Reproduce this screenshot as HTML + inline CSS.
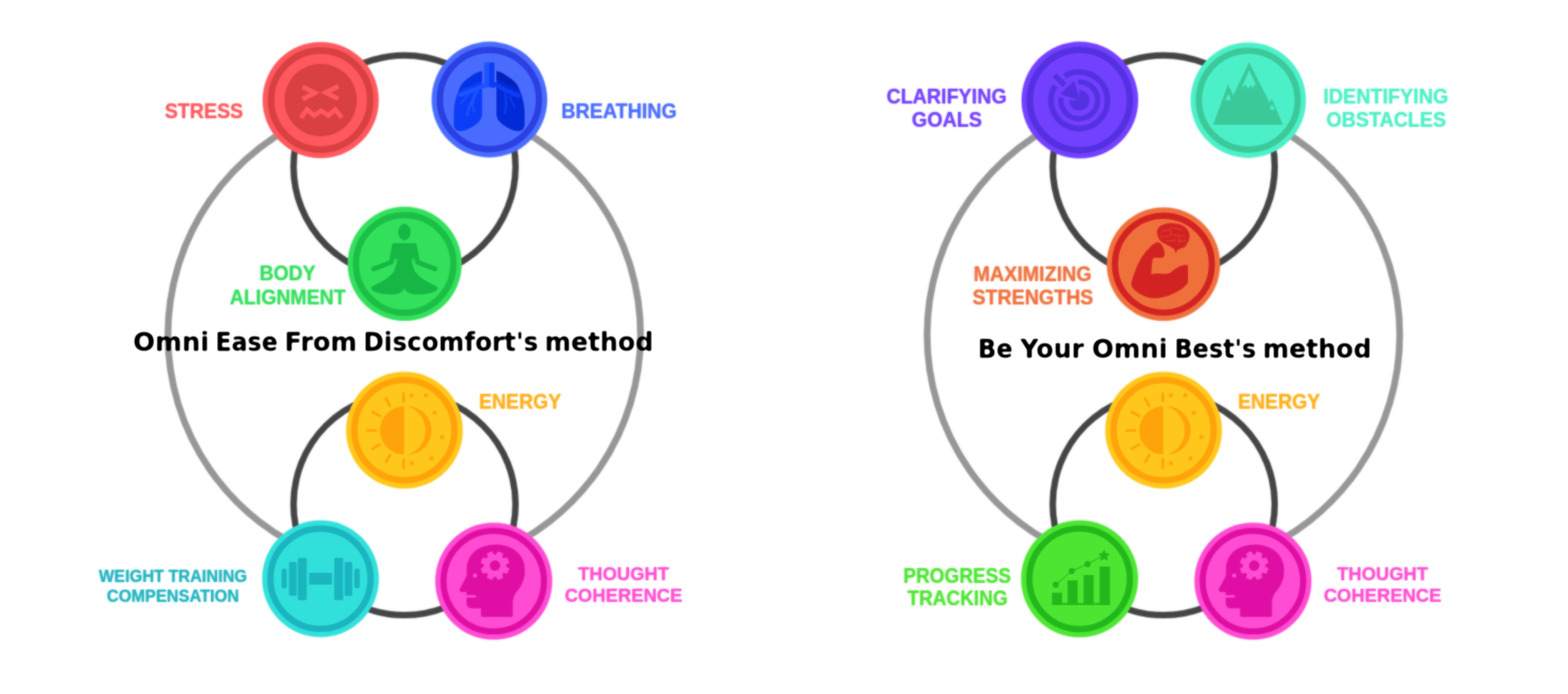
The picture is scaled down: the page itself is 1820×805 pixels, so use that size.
<!DOCTYPE html>
<html lang="en">
<head>
<meta charset="utf-8">
<title>Omni methods</title>
<style>
html,body{margin:0;padding:0;background:#fff;}
body{width:1820px;height:805px;overflow:hidden;position:relative;}
svg{position:absolute;left:0;top:0;display:block;}
text{font-family:"Liberation Sans", sans-serif;font-weight:bold;}
text.h{font-family:"DejaVu Sans","Liberation Sans",sans-serif;}
</style>
</head>
<body>
<svg width="1820" height="805" viewBox="0 0 1820 805">
<defs>
<filter id="soft" x="-5%" y="-5%" width="110%" height="110%"><feGaussianBlur stdDeviation="0.8"/></filter>
<filter id="soft2" x="-5%" y="-20%" width="110%" height="140%"><feGaussianBlur stdDeviation="0.8"/><feComponentTransfer><feFuncA type="linear" slope="1.5" intercept="-0.25"/></feComponentTransfer></filter>
<filter id="soft3" x="-5%" y="-5%" width="110%" height="110%"><feGaussianBlur stdDeviation="0.8"/></filter>
</defs>
<g filter="url(#soft)">
<g id="art">
<g transform="translate(0,0)">
<path d="M372.0 132.0 A274.3 274.3 0 0 0 372.0 645.0" fill="none" stroke="#969696" stroke-width="7.3"/>
<path d="M569.0 133.0 A274.3 274.3 0 0 1 569.0 644.0" fill="none" stroke="#969696" stroke-width="7.3"/>
<circle cx="469.55" cy="193.15" r="128.85" fill="none" stroke="#454545" stroke-width="7.0"/>
<circle cx="469.55" cy="584.75" r="128.85" fill="none" stroke="#454545" stroke-width="7.0"/>
<g transform="translate(372.2,116.1)">
<circle r="67.2" fill="#ff585e"/>
<circle r="57.5" fill="none" stroke="#d94042" stroke-width="7.6"/>
<circle r="42.1" fill="#d94042"/>
</g>
<g fill="none" stroke="#ff585e" stroke-width="5.4" stroke-linejoin="miter">
<path d="M351.2 100.6 L365.6 107.8 L351.2 115.0"/>
<path d="M392.8 100.0 L378.0 107.4 L392.8 114.6"/>
<path d="M349.2 136.6 L356.4 127.0 L364.6 134.0 L372.8 128.4 L381.0 134.0 L389.2 127.0 L396.8 136.6"/>
</g>
<g transform="translate(568.1,115.5)">
<circle r="66.9" fill="#4a6cff"/>
<circle r="57.5" fill="none" stroke="#2a40e2" stroke-width="7.4"/>
</g>
<g transform="translate(518.0 65.0) scale(0.124224)">
<path d="M335 140 C300 140 250 170 200 210 C160 240 135 270 115 320 C90 380 72 450 70 520 L70 640 C72 680 95 702 135 702 C180 700 230 675 270 645 C310 615 335 585 335 540 Z" fill="#0a3ef6"/>
<path d="M468 140 C503 140 553 170 603 210 C643 240 668 270 688 320 C713 380 731 450 733 520 L733 640 C731 680 708 702 668 702 C623 700 573 675 533 645 C493 615 468 585 468 540 Z" fill="#052bd6"/>
<path d="M335 140 C300 140 250 170 200 210 C160 240 135 270 118 315 L335 235 Z" fill="#0633dc" opacity=".75"/>
<path d="M468 140 C503 140 553 170 603 210 C643 240 668 270 686 315 L468 215 Z" fill="#0320b4" opacity=".75"/>
<g fill="none" stroke-linecap="round" stroke-linejoin="round">
<g stroke="#1f55ff">
<path d="M378 262 L300 300 L130 362" stroke-width="40"/>
<path d="M295 322 L215 470 L196 548" stroke-width="24" opacity=".85"/>
<path d="M262 340 L245 470 L262 520" stroke-width="18" opacity=".8"/>
<path d="M215 350 L135 440" stroke-width="18" opacity=".8"/>
</g>
<g stroke="#0a3ef4">
<path d="M425 250 L520 300 L670 370" stroke-width="42"/>
<path d="M552 350 L560 450 L546 535" stroke-width="24" opacity=".85"/>
<path d="M590 375 L640 480" stroke-width="18" opacity=".8"/>
</g>
</g>
<path d="M353 60 H402 V290 L353 300 Z" fill="#1f55ff"/>
<path d="M401 60 H450 V300 L401 290 Z" fill="#0a3ef4"/>
<path d="M401 295 L345 345 L345 560 L460 560 L460 345 Z" fill="#4a6cff"/>
</g>
<g transform="translate(469.7,306.1)">
<circle r="66.0" fill="#33e05c"/>
<circle r="56.6" fill="none" stroke="#1cbf47" stroke-width="7.4"/>
</g>
<g transform="translate(397.0 234.0) scale(0.178792)">
<g fill="#17b745">
<ellipse cx="405" cy="197" rx="40" ry="54"/>
<path d="M342 268 H468 Q478 268 479 278 L462 400 Q460 430 475 455 C510 500 570 530 612 548 Q630 562 612 577 C570 600 500 606 450 598 Q420 590 405 562 Q390 590 360 598 C310 606 240 600 198 577 Q180 562 198 548 C240 530 300 500 335 455 Q350 430 348 400 L331 278 Q332 268 342 268 Z"/>
</g>
<g fill="none" stroke="#17b745" stroke-width="31" stroke-linecap="round" stroke-linejoin="round">
<path d="M470 284 L490 392 L604 436"/>
<path d="M340 284 L320 392 L206 436"/>
</g>
<g fill="none" stroke="#33e05c" stroke-width="8" stroke-linecap="round">
<path d="M352 372 Q358 402 338 424"/>
<path d="M458 372 Q452 402 472 424"/>
</g>
</g>
<g transform="translate(469.4,499.0)">
<circle r="67.5" fill="#ffc71a"/>
<circle r="58.1" fill="none" stroke="#ffa30a" stroke-width="7.4"/>
</g>
<g transform="translate(420.0 449.0) scale(0.124224)">
<path d="M395 180 A225 225 0 0 0 395 630 Z" fill="#ffa30a"/>
<path d="M425 179 A226 226 0 1 1 425 631 A235.2 235.2 0 0 0 425 179 Z" fill="#ffa30a"/>
<g stroke="#ffa30a" stroke-width="24" stroke-linecap="round">
<path d="M390 60 L390 130"/><path d="M225 105 L262 175"/><path d="M100 232 L170 270"/><path d="M52 405 L130 405"/><path d="M100 575 L170 535"/><path d="M225 700 L265 635"/><path d="M390 675 L390 755"/>
</g>
<path d="M465.0 56.0 L471.5 69.1 L485.9 71.2 L475.5 81.4 L477.9 95.8 L465.0 89.0 L452.1 95.8 L454.5 81.4 L444.1 71.2 L458.5 69.1 Z" fill="#ffa30a" stroke="#ffa30a" stroke-width="8" stroke-linejoin="round"/>
<path d="M600.0 56.0 L606.5 69.1 L620.9 71.2 L610.5 81.4 L612.9 95.8 L600.0 89.0 L587.1 95.8 L589.5 81.4 L579.1 71.2 L593.5 69.1 Z" fill="#ffa30a" stroke="#ffa30a" stroke-width="8" stroke-linejoin="round"/>
<path d="M680.0 218.0 L686.5 231.1 L700.9 233.2 L690.5 243.4 L692.9 257.8 L680.0 251.0 L667.1 257.8 L669.5 243.4 L659.1 233.2 L673.5 231.1 Z" fill="#ffa30a" stroke="#ffa30a" stroke-width="8" stroke-linejoin="round"/>
<path d="M750.0 446.0 L756.5 459.1 L770.9 461.2 L760.5 471.4 L762.9 485.8 L750.0 479.0 L737.1 485.8 L739.5 471.4 L729.1 461.2 L743.5 459.1 Z" fill="#ffa30a" stroke="#ffa30a" stroke-width="8" stroke-linejoin="round"/>
<path d="M650.0 643.0 L656.5 656.1 L670.9 658.2 L660.5 668.4 L662.9 682.8 L650.0 676.0 L637.1 682.8 L639.5 668.4 L629.1 658.2 L643.5 656.1 Z" fill="#ffa30a" stroke="#ffa30a" stroke-width="8" stroke-linejoin="round"/>
<path d="M465.0 688.0 L471.5 701.1 L485.9 703.2 L475.5 713.4 L477.9 727.8 L465.0 721.0 L452.1 727.8 L454.5 713.4 L444.1 703.2 L458.5 701.1 Z" fill="#ffa30a" stroke="#ffa30a" stroke-width="8" stroke-linejoin="round"/>
</g>
<g transform="translate(372.0,671.3)">
<circle r="67.5" fill="#33e0db"/>
<circle r="58.1" fill="none" stroke="#1ab5c0" stroke-width="7.4"/>
</g>
<g transform="translate(322.0 621.0) scale(0.124224)">
<g fill="#1ab5c0">
<rect x="295" y="350" width="215" height="110"/>
<rect x="190" y="210" width="85" height="395" rx="14"/>
<rect x="108" y="248" width="72" height="317" rx="14"/>
<rect x="38" y="310" width="50" height="185" rx="22"/>
<rect x="530" y="210" width="85" height="395" rx="14"/>
<rect x="628" y="248" width="72" height="317" rx="14"/>
<rect x="718" y="310" width="52" height="185" rx="22"/>
</g>
</g>
<g transform="translate(573.1,674.1)">
<circle r="67.7" fill="#ff4dd2"/>
<circle r="58.3" fill="none" stroke="#e010a5" stroke-width="7.4"/>
</g>
<g transform="translate(523.0 624.0) scale(0.124224)">
<path d="M150 290 C150 200 200 120 290 85 C340 65 390 58 430 60 C520 62 600 95 650 160 C690 215 702 280 692 350 C684 410 655 460 622 500 C598 530 585 560 582 600 L582 720 C582 732 575 738 565 738 L300 738 C290 738 283 732 283 720 L283 658 L200 658 C168 658 148 640 148 610 L148 555 L235 555 L235 535 L148 535 L148 505 L100 505 C85 505 78 490 85 475 L150 352 Z" fill="#e010a5"/>
<path d="M539.5 287.9 L524.1 324.9 L494.3 315.6 L472.6 337.3 L481.9 367.1 L444.9 382.5 L430.3 354.8 L399.7 354.8 L385.1 382.5 L348.1 367.1 L357.4 337.3 L335.7 315.6 L305.9 324.9 L290.5 287.9 L318.2 273.3 L318.2 242.7 L290.5 228.1 L305.9 191.1 L335.7 200.4 L357.4 178.7 L348.1 148.9 L385.1 133.5 L399.7 161.2 L430.3 161.2 L444.9 133.5 L481.9 148.9 L472.6 178.7 L494.3 200.4 L524.1 191.1 L539.5 228.1 L511.8 242.7 L511.8 273.3 Z" fill="#ff4dd2" stroke="#ff4dd2" stroke-width="14" stroke-linejoin="round"/><circle cx="415" cy="258" r="50" fill="#e010a5"/>
<circle cx="228" cy="352" r="19" fill="#ff4dd2"/>
</g>
</g>

<g transform="translate(881.2,0)">
<path d="M372.0 132.0 A274.3 274.3 0 0 0 372.0 645.0" fill="none" stroke="#969696" stroke-width="7.3"/>
<path d="M569.0 133.0 A274.3 274.3 0 0 1 569.0 644.0" fill="none" stroke="#969696" stroke-width="7.3"/>
<circle cx="469.55" cy="193.15" r="128.85" fill="none" stroke="#454545" stroke-width="7.0"/>
<circle cx="469.55" cy="584.75" r="128.85" fill="none" stroke="#454545" stroke-width="7.0"/>
<g transform="translate(372.2,116.1)">
<circle r="67.5" fill="#7340ff"/>
<circle r="58.1" fill="none" stroke="#5530e0" stroke-width="7.4"/>
</g>
<g transform="translate(321.8 66.0) scale(0.124224)">
<path d="M264.0 178.7 A264 264 0 1 1 173.7 269.0" fill="none" stroke="#5530e0" stroke-width="54"/>
<path d="M388.0 233.4 A172 172 0 1 1 230.1 378.1" fill="none" stroke="#5530e0" stroke-width="49"/>
<path d="M400 310 A95 95 0 1 1 305 405 L400 405 Z" fill="#5530e0"/>
<path d="M168 170 L264 264" stroke="#5530e0" stroke-width="50" fill="none"/>
<path d="M350 232 L400 400 L232 345 Z" fill="#5530e0" stroke="#5530e0" stroke-width="10" stroke-linejoin="round"/>
</g>
<g transform="translate(567.7,116.2)">
<circle r="66.7" fill="#4df0c8"/>
<circle r="57.3" fill="none" stroke="#3cc99a" stroke-width="7.4"/>
</g>
<g transform="translate(517.8 66.0) scale(0.124224)">
<path d="M78 630 L213 262 L262 365 L410 55 L600 430 L622 398 L722 630 Z" fill="#3cc99a" stroke="#3cc99a" stroke-width="6" stroke-linejoin="round"/>
<path d="M410 125 L480 275 L462 252 L445 295 L425 262 L400 300 L378 258 L338 292 Z" fill="#4df0c8"/>
<path d="M215 345 L240 402 L190 402 Z" fill="#4df0c8"/>
<path d="M622 440 L650 492 L600 492 Z" fill="#4df0c8"/>
</g>
<g transform="translate(469.2,306.4)">
<circle r="65.6" fill="#f0703c"/>
<circle r="56.2" fill="none" stroke="#d32222" stroke-width="7.4"/>
</g>
<g transform="translate(419.8 256.0) scale(0.124224)">
<g fill="#d32222">
<path d="M95 590 C105 540 120 500 140 450 C170 375 210 310 258 262 C280 238 305 212 335 202 C355 197 375 210 388 232 C400 255 410 285 410 312 C410 332 398 345 378 348 L318 346 C304 348 298 356 296 370 C290 410 286 455 284 500
 C320 488 360 490 400 496 C430 498 455 492 475 475 C505 448 540 428 585 415 C605 410 625 410 628 420 L628 575 C612 605 585 630 550 650 C490 688 420 715 340 724 C280 730 220 712 170 680 C130 655 100 625 95 590 Z"/>
<path d="M338 118 C330 78 362 42 412 32 C440 20 485 18 520 26 C572 34 620 62 636 108 C648 145 642 188 618 212 C614 238 592 256 562 260 C548 264 534 270 526 278 L514 305 L496 264 C468 244 428 228 394 208 C364 188 342 156 338 118 Z"/>
</g>
<g fill="none" stroke="#f0703c" stroke-width="7" stroke-linecap="round" opacity=".55">
<path d="M375 110 C400 85 430 100 455 75"/>
<path d="M470 60 C500 80 540 60 575 95"/>
<path d="M365 150 C400 135 430 160 460 135"/>
<path d="M480 130 C510 150 550 120 600 150"/>
<path d="M420 190 C450 175 480 200 515 180"/>
<path d="M535 195 C560 185 585 200 610 185"/>
<path d="M460 80 L470 130"/><path d="M545 150 L550 200"/>
</g>
</g>
<g transform="translate(469.4,499.0)">
<circle r="67.5" fill="#ffc71a"/>
<circle r="58.1" fill="none" stroke="#ffa30a" stroke-width="7.4"/>
</g>
<g transform="translate(420.0 449.0) scale(0.124224)">
<path d="M395 180 A225 225 0 0 0 395 630 Z" fill="#ffa30a"/>
<path d="M425 179 A226 226 0 1 1 425 631 A235.2 235.2 0 0 0 425 179 Z" fill="#ffa30a"/>
<g stroke="#ffa30a" stroke-width="24" stroke-linecap="round">
<path d="M390 60 L390 130"/><path d="M225 105 L262 175"/><path d="M100 232 L170 270"/><path d="M52 405 L130 405"/><path d="M100 575 L170 535"/><path d="M225 700 L265 635"/><path d="M390 675 L390 755"/>
</g>
<path d="M465.0 56.0 L471.5 69.1 L485.9 71.2 L475.5 81.4 L477.9 95.8 L465.0 89.0 L452.1 95.8 L454.5 81.4 L444.1 71.2 L458.5 69.1 Z" fill="#ffa30a" stroke="#ffa30a" stroke-width="8" stroke-linejoin="round"/>
<path d="M600.0 56.0 L606.5 69.1 L620.9 71.2 L610.5 81.4 L612.9 95.8 L600.0 89.0 L587.1 95.8 L589.5 81.4 L579.1 71.2 L593.5 69.1 Z" fill="#ffa30a" stroke="#ffa30a" stroke-width="8" stroke-linejoin="round"/>
<path d="M680.0 218.0 L686.5 231.1 L700.9 233.2 L690.5 243.4 L692.9 257.8 L680.0 251.0 L667.1 257.8 L669.5 243.4 L659.1 233.2 L673.5 231.1 Z" fill="#ffa30a" stroke="#ffa30a" stroke-width="8" stroke-linejoin="round"/>
<path d="M750.0 446.0 L756.5 459.1 L770.9 461.2 L760.5 471.4 L762.9 485.8 L750.0 479.0 L737.1 485.8 L739.5 471.4 L729.1 461.2 L743.5 459.1 Z" fill="#ffa30a" stroke="#ffa30a" stroke-width="8" stroke-linejoin="round"/>
<path d="M650.0 643.0 L656.5 656.1 L670.9 658.2 L660.5 668.4 L662.9 682.8 L650.0 676.0 L637.1 682.8 L639.5 668.4 L629.1 658.2 L643.5 656.1 Z" fill="#ffa30a" stroke="#ffa30a" stroke-width="8" stroke-linejoin="round"/>
<path d="M465.0 688.0 L471.5 701.1 L485.9 703.2 L475.5 713.4 L477.9 727.8 L465.0 721.0 L452.1 727.8 L454.5 713.4 L444.1 703.2 L458.5 701.1 Z" fill="#ffa30a" stroke="#ffa30a" stroke-width="8" stroke-linejoin="round"/>
</g>
<g transform="translate(371.9,671.4)">
<circle r="67.7" fill="#4de633"/>
<circle r="58.3" fill="none" stroke="#22b81c" stroke-width="7.4"/>
</g>
<g transform="translate(321.8 621.0) scale(0.124224)">
<g fill="#22b81c">
<rect x="145" y="535" width="95" height="115"/>
<rect x="290" y="420" width="95" height="230"/>
<rect x="440" y="370" width="95" height="280"/>
<rect x="590" y="290" width="98" height="360"/>
<rect x="145" y="632" width="543" height="18"/>
<circle cx="180" cy="460" r="29"/><circle cx="330" cy="333" r="29"/><circle cx="478" cy="268" r="29"/>
</g>
<path d="M180 460 L330 333 L478 268 L610 198" stroke="#22b81c" stroke-width="9" fill="none"/>
<path d="M632.0 138.0 L647.9 168.2 L681.5 173.9 L657.7 198.3 L662.6 232.1 L632.0 217.0 L601.4 232.1 L606.3 198.3 L582.5 173.9 L616.1 168.2 Z" fill="#22b81c" stroke="#22b81c" stroke-width="8" stroke-linejoin="round"/>
</g>
<g transform="translate(573.1,674.1)">
<circle r="67.7" fill="#ff4dd2"/>
<circle r="58.3" fill="none" stroke="#e010a5" stroke-width="7.4"/>
</g>
<g transform="translate(523.0 624.0) scale(0.124224)">
<path d="M150 290 C150 200 200 120 290 85 C340 65 390 58 430 60 C520 62 600 95 650 160 C690 215 702 280 692 350 C684 410 655 460 622 500 C598 530 585 560 582 600 L582 720 C582 732 575 738 565 738 L300 738 C290 738 283 732 283 720 L283 658 L200 658 C168 658 148 640 148 610 L148 555 L235 555 L235 535 L148 535 L148 505 L100 505 C85 505 78 490 85 475 L150 352 Z" fill="#e010a5"/>
<path d="M539.5 287.9 L524.1 324.9 L494.3 315.6 L472.6 337.3 L481.9 367.1 L444.9 382.5 L430.3 354.8 L399.7 354.8 L385.1 382.5 L348.1 367.1 L357.4 337.3 L335.7 315.6 L305.9 324.9 L290.5 287.9 L318.2 273.3 L318.2 242.7 L290.5 228.1 L305.9 191.1 L335.7 200.4 L357.4 178.7 L348.1 148.9 L385.1 133.5 L399.7 161.2 L430.3 161.2 L444.9 133.5 L481.9 148.9 L472.6 178.7 L494.3 200.4 L524.1 191.1 L539.5 228.1 L511.8 242.7 L511.8 273.3 Z" fill="#ff4dd2" stroke="#ff4dd2" stroke-width="14" stroke-linejoin="round"/><circle cx="415" cy="258" r="50" fill="#e010a5"/>
<circle cx="228" cy="352" r="19" fill="#ff4dd2"/>
</g>
</g>

</g>
</g>
<use href="#art" opacity="0.5"/>
<g filter="url(#soft3)">
<g id="labels">
<text x="191.19" y="136.6" font-size="24.0" fill="#ff585e" stroke="#ff585e" stroke-width="0.0" stroke-linejoin="round" textLength="91.08" lengthAdjust="spacingAndGlyphs">STRESS</text>
<text x="651.47" y="136.5" font-size="24.0" fill="#4a6cff" stroke="#4a6cff" stroke-width="0.0" stroke-linejoin="round" textLength="134.18" lengthAdjust="spacingAndGlyphs">BREATHING</text>
<text x="301.29" y="325.3" font-size="24.0" fill="#33e05c" stroke="#33e05c" stroke-width="0.0" stroke-linejoin="round" textLength="65.06" lengthAdjust="spacingAndGlyphs">BODY</text>
<text x="266.69" y="352.6" font-size="24.0" fill="#33e05c" stroke="#33e05c" stroke-width="0.0" stroke-linejoin="round" textLength="134.55" lengthAdjust="spacingAndGlyphs">ALIGNMENT</text>
<text x="555.99" y="473.5" font-size="24.0" fill="#ffb01a" stroke="#ffb01a" stroke-width="0.0" stroke-linejoin="round" textLength="95.38" lengthAdjust="spacingAndGlyphs">ENERGY</text>
<text x="114.80" y="675.4" font-size="20.3" fill="#1fb3bf" stroke="#1fb3bf" stroke-width="0.0" stroke-linejoin="round" textLength="171.98" lengthAdjust="spacingAndGlyphs">WEIGHT TRAINING</text>
<text x="124.00" y="698.0" font-size="20.3" fill="#1fb3bf" stroke="#1fb3bf" stroke-width="0.0" stroke-linejoin="round" textLength="153.58" lengthAdjust="spacingAndGlyphs">COMPENSATION</text>
<text x="671.06" y="672.8" font-size="22.3" fill="#ff4dd2" stroke="#ff4dd2" stroke-width="0.0" stroke-linejoin="round" textLength="105.36" lengthAdjust="spacingAndGlyphs">THOUGHT</text>
<text x="655.44" y="698.2" font-size="22.3" fill="#ff4dd2" stroke="#ff4dd2" stroke-width="0.0" stroke-linejoin="round" textLength="136.59" lengthAdjust="spacingAndGlyphs">COHERENCE</text>
<text x="1028.95" y="120.3" font-size="24.0" fill="#7340ff" stroke="#7340ff" stroke-width="0.0" stroke-linejoin="round" textLength="139.49" lengthAdjust="spacingAndGlyphs">CLARIFYING</text>
<text x="1058.35" y="147.3" font-size="24.0" fill="#7340ff" stroke="#7340ff" stroke-width="0.0" stroke-linejoin="round" textLength="81.49" lengthAdjust="spacingAndGlyphs">GOALS</text>
<text x="1535.97" y="120.0" font-size="24.0" fill="#4df0c8" stroke="#4df0c8" stroke-width="0.0" stroke-linejoin="round" textLength="145.07" lengthAdjust="spacingAndGlyphs">IDENTIFYING</text>
<text x="1539.45" y="147.0" font-size="24.0" fill="#4df0c8" stroke="#4df0c8" stroke-width="0.0" stroke-linejoin="round" textLength="139.08" lengthAdjust="spacingAndGlyphs">OBSTACLES</text>
<text x="1129.97" y="325.8" font-size="24.0" fill="#f0703c" stroke="#f0703c" stroke-width="0.0" stroke-linejoin="round" textLength="137.04" lengthAdjust="spacingAndGlyphs">MAXIMIZING</text>
<text x="1128.69" y="352.9" font-size="24.0" fill="#f0703c" stroke="#f0703c" stroke-width="0.0" stroke-linejoin="round" textLength="140.37" lengthAdjust="spacingAndGlyphs">STRENGTHS</text>
<text x="1436.99" y="473.5" font-size="24.0" fill="#ffb01a" stroke="#ffb01a" stroke-width="0.0" stroke-linejoin="round" textLength="95.38" lengthAdjust="spacingAndGlyphs">ENERGY</text>
<text x="1048.49" y="676.0" font-size="23.4" fill="#4de633" stroke="#4de633" stroke-width="0.0" stroke-linejoin="round" textLength="124.94" lengthAdjust="spacingAndGlyphs">PROGRESS</text>
<text x="1053.16" y="702.4" font-size="23.4" fill="#4de633" stroke="#4de633" stroke-width="0.0" stroke-linejoin="round" textLength="116.44" lengthAdjust="spacingAndGlyphs">TRACKING</text>
<text x="1552.06" y="672.8" font-size="22.3" fill="#ff4dd2" stroke="#ff4dd2" stroke-width="0.0" stroke-linejoin="round" textLength="105.36" lengthAdjust="spacingAndGlyphs">THOUGHT</text>
<text x="1536.44" y="698.2" font-size="22.3" fill="#ff4dd2" stroke="#ff4dd2" stroke-width="0.0" stroke-linejoin="round" textLength="136.59" lengthAdjust="spacingAndGlyphs">COHERENCE</text>
</g>
</g>
<use href="#labels" opacity="0.5"/>
<g filter="url(#soft2)">
<text class="h" y="406.9" font-size="30.6" fill="#000"><tspan x="154.53" textLength="88.18" lengthAdjust="spacingAndGlyphs">Omni</tspan> <tspan x="249.92" textLength="72.54" lengthAdjust="spacingAndGlyphs">Ease</tspan> <tspan x="330.34" textLength="84.12" lengthAdjust="spacingAndGlyphs">From</tspan> <tspan x="421.83" textLength="202.90" lengthAdjust="spacingAndGlyphs">Discomfort's</tspan> <tspan x="632.31" textLength="126.05" lengthAdjust="spacingAndGlyphs">method</tspan></text>
<text class="h" y="414.5" font-size="30.6" fill="#000"><tspan x="1134.97" textLength="40.47" lengthAdjust="spacingAndGlyphs">Be</tspan> <tspan x="1184.34" textLength="73.79" lengthAdjust="spacingAndGlyphs">Your</tspan> <tspan x="1267.44" textLength="87.65" lengthAdjust="spacingAndGlyphs">Omni</tspan> <tspan x="1363.20" textLength="94.85" lengthAdjust="spacingAndGlyphs">Best's</tspan> <tspan x="1465.71" textLength="126.15" lengthAdjust="spacingAndGlyphs">method</tspan></text>
</g>
</svg>
</body>
</html>
